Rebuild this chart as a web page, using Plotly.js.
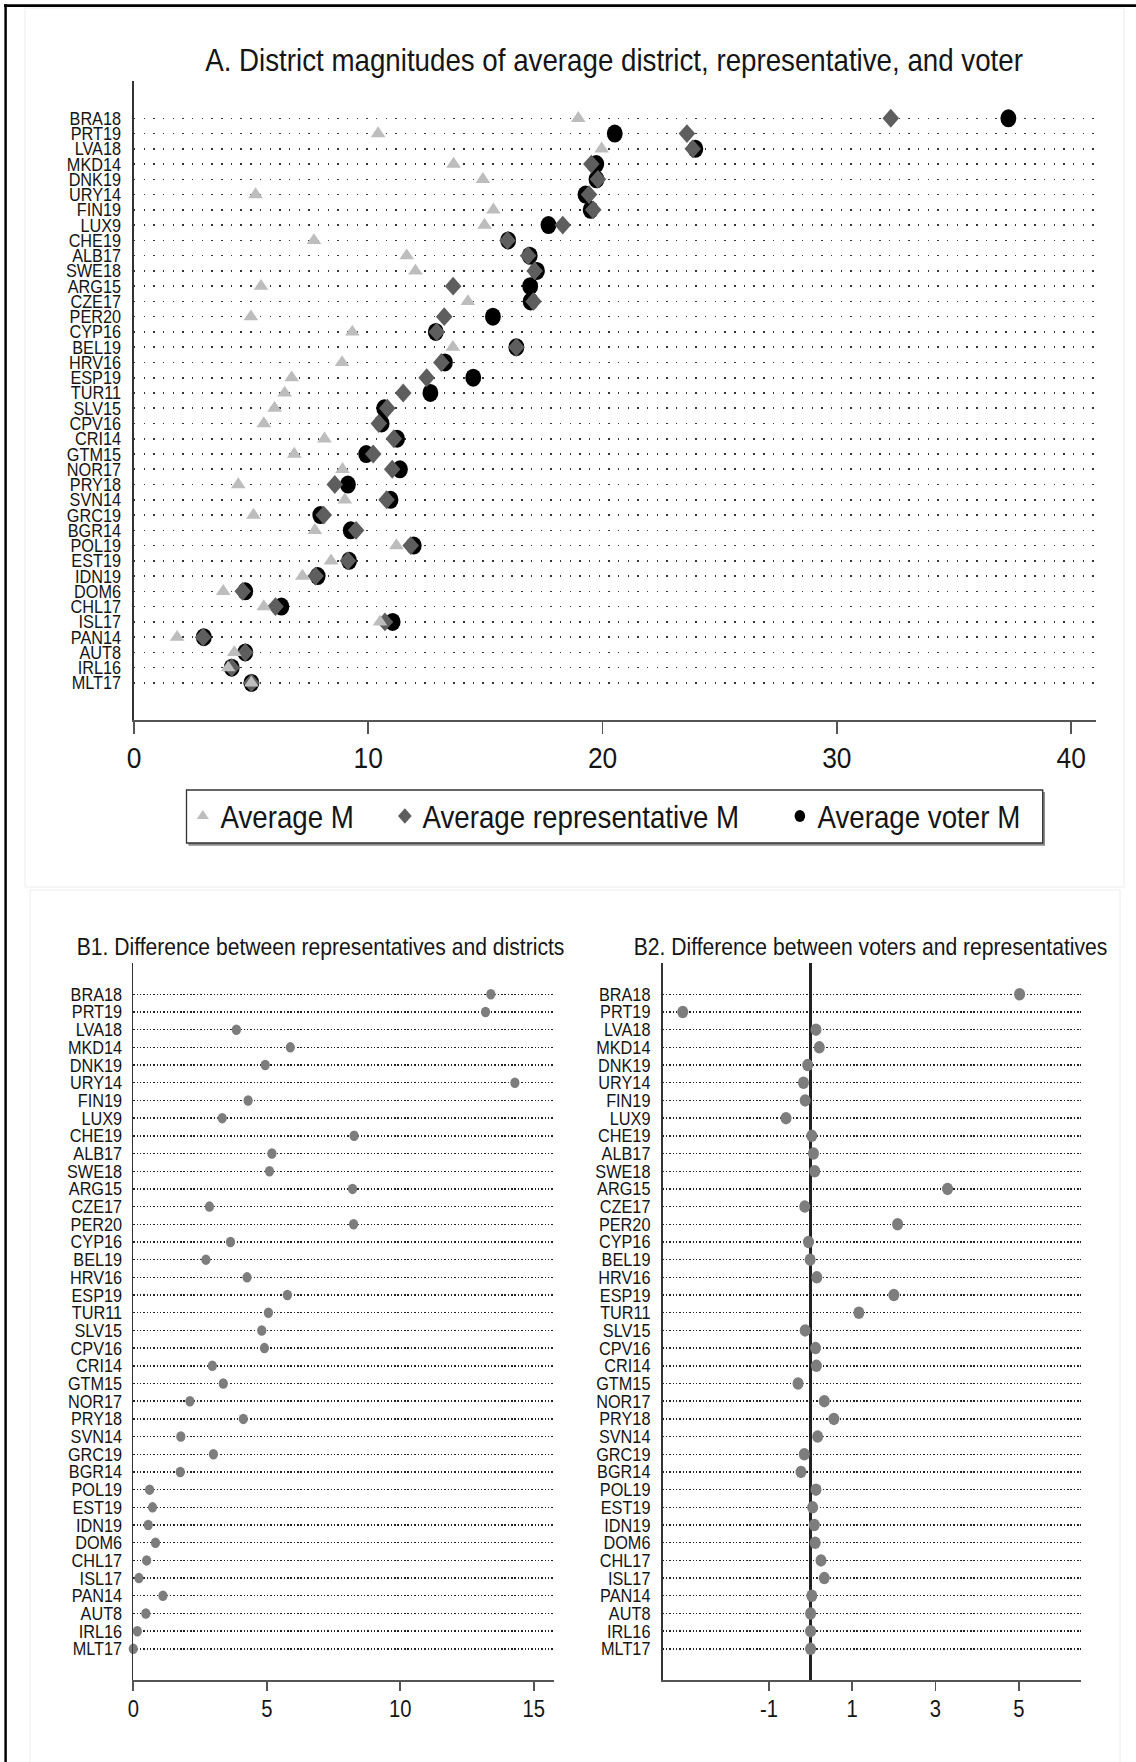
<!DOCTYPE html>
<html>
<head>
<meta charset="utf-8">
<script src="https://cdn.plot.ly/plotly-3.0.1.min.js"></script>
<style>
  html, body { margin: 0; padding: 0; background: #fff; overflow: hidden; }
  #chart { width: 1291px; height: 1762px; transform: scaleX(0.87994); transform-origin: 0 0; }
</style>
</head>
<body>
<div id="chart"></div>
<script>
// ---- data ----
const cats = ['BRA18','PRT19','LVA18','MKD14','DNK19','URY14','FIN19','LUX9','CHE19','ALB17',
  'SWE18','ARG15','CZE17','PER20','CYP16','BEL19','HRV16','ESP19','TUR11','SLV15','CPV16',
  'CRI14','GTM15','NOR17','PRY18','SVN14','GRC19','BGR14','POL19','EST19','IDN19','DOM6',
  'CHL17','ISL17','PAN14','AUT8','IRL16','MLT17'];

const avgM = [18.96, 10.42, 19.96, 13.64, 14.89, 5.19, 15.34, 14.96, 7.68, 11.64,
  12.01, 5.42, 14.25, 4.99, 9.32, 13.61, 8.88, 6.73, 6.43, 6.0, 5.54,
  8.13, 6.84, 8.9, 4.45, 9.0, 5.1, 7.72, 11.2, 8.41, 7.19, 3.81,
  5.54, 10.5, 1.84, 4.28, 4.02, 5.01];

const repM = [32.3, 23.6, 23.85, 19.52, 19.8, 19.42, 19.6, 18.3, 15.94, 16.82,
  17.1, 13.62, 17.05, 13.24, 12.92, 16.32, 13.12, 12.49, 11.49, 10.81, 10.45,
  11.09, 10.21, 11.02, 8.57, 10.78, 8.1, 9.48, 11.81, 9.13, 7.75, 4.64,
  6.04, 10.71, 2.95, 4.75, 4.17, 5.01];

const voterM = [37.32, 20.52, 23.96, 19.73, 19.74, 19.27, 19.49, 17.69, 15.97, 16.89,
  17.2, 16.91, 16.93, 15.32, 12.88, 16.32, 13.27, 14.48, 12.65, 10.68, 10.57,
  11.23, 9.91, 11.35, 9.13, 10.95, 7.95, 9.25, 11.94, 9.18, 7.84, 4.75,
  6.29, 11.04, 2.98, 4.75, 4.17, 5.01];

const diffRepDist = [13.39, 13.19, 3.86, 5.88, 4.94, 14.29, 4.30, 3.33, 8.27, 5.19,
  5.10, 8.21, 2.85, 8.25, 3.64, 2.72, 4.26, 5.77, 5.06, 4.81, 4.91,
  2.96, 3.37, 2.12, 4.12, 1.78, 3.0, 1.76, 0.61, 0.72, 0.56, 0.83,
  0.50, 0.21, 1.11, 0.47, 0.15, 0.0];

const diffVoterRep = [5.02, -3.07, 0.13, 0.21, -0.07, -0.17, -0.13, -0.59, 0.03, 0.07,
  0.10, 3.29, -0.14, 2.09, -0.05, -0.01, 0.15, 2.0, 1.16, -0.13, 0.12,
  0.14, -0.30, 0.33, 0.56, 0.17, -0.15, -0.23, 0.13, 0.05, 0.09, 0.11,
  0.25, 0.33, 0.03, 0.0, 0.0, 0.0];

const ticksA = [0, 10, 20, 30, 40];
const ticksB1 = [0, 5, 10, 15];
const ticksB2 = [-1, 1, 3, 5];
const ticksB2Text = ['-1', '1', '3', '5'];

const titleA = 'A. District magnitudes of average district, representative, and voter';
const titleB1 = 'B1. Difference between representatives and districts';
const titleB2 = 'B2. Difference between voters and representatives';
const seriesNames = ['Average M', 'Average representative M', 'Average voter M'];

// ---- geometry helpers (reference pixel -> paper fraction) ----
const FW = 1136, FH = 1762;
const px = v => v / FW;
const py = v => 1 - v / FH;

const FONT = 'Liberation Sans, Arial, Helvetica, sans-serif';
const TXT = '#151515';

const traces = [
  { type: 'scatter', mode: 'markers', name: seriesNames[2], x: voterM, y: cats,
    xaxis: 'x', yaxis: 'y', legend: 'legend3', cliponaxis: false,
    marker: { symbol: 'circle', size: 18, color: '#000000', line: { width: 0 } } },
  { type: 'scatter', mode: 'markers', name: seriesNames[1], x: repM, y: cats,
    xaxis: 'x', yaxis: 'y', legend: 'legend2', cliponaxis: false,
    marker: { symbol: 'diamond', size: 14.5, color: '#5e5e5e', line: { width: 0 } } },
  { type: 'scatter', mode: 'markers', name: seriesNames[0], x: avgM, y: cats,
    xaxis: 'x', yaxis: 'y', legend: 'legend', cliponaxis: false,
    marker: { symbol: 'triangle-up', size: 14.5, color: '#bdbdbd', line: { width: 0 } } },
  { type: 'scatter', mode: 'markers', x: diffRepDist, y: cats, showlegend: false,
    xaxis: 'x2', yaxis: 'y2', cliponaxis: false,
    marker: { symbol: 'circle', size: 10.5, color: '#7d7d7d', line: { width: 0 } } },
  { type: 'scatter', mode: 'markers', x: diffVoterRep, y: cats, showlegend: false,
    xaxis: 'x3', yaxis: 'y3', cliponaxis: false,
    marker: { symbol: 'circle', size: 12.5, color: '#7d7d7d', line: { width: 0 } } }
];

const catY = (domain, range, labelSize, standoff, dash, gw, gc) => ({
  domain: domain, type: 'category', categoryorder: 'array', categoryarray: cats,
  range: range, tickmode: 'array', tickvals: cats, ticktext: cats,
  ticks: '', showline: true, linecolor: '#333', linewidth: 2,
  showgrid: true, gridcolor: gc, gridwidth: gw, griddash: dash,
  zeroline: false, fixedrange: true,
  tickfont: { family: FONT, size: labelSize, color: TXT }, ticklabelstandoff: standoff
});

const numX = (domain, range, tickvals, ticktext, fontSize, ticklen, standoff, anchor) => ({
  domain: domain, range: range, tickmode: 'array', tickvals: tickvals, ticktext: ticktext,
  ticks: 'outside', ticklen: ticklen, tickwidth: 2, tickcolor: '#555',
  showline: true, linecolor: '#555', linewidth: 2, showgrid: false, zeroline: false,
  anchor: anchor, fixedrange: true, ticklabelstandoff: standoff,
  tickfont: { family: FONT, size: fontSize, color: TXT }
});

const legendBase = (x) => ({
  orientation: 'h', x: x, xanchor: 'left', y: py(816), yanchor: 'middle',
  bgcolor: 'rgba(0,0,0,0)', borderwidth: 0, itemsizing: 'constant',
  font: { family: FONT, size: 31.5, color: TXT }
});

const layout = {
  width: 1291, height: 1762,
  margin: { l: 0, r: 0, t: 0, b: 0, pad: 0 },
  paper_bgcolor: '#ffffff', plot_bgcolor: 'rgba(0,0,0,0)',
  font: { family: FONT, color: TXT },
  showlegend: true,
  legend: legendBase((229.5 - 19) / 1291),
  legend2: legendBase((459.1 - 19) / 1291),
  legend3: legendBase((908.0 - 19) / 1291),
  xaxis: numX([px(134), px(1096)], [0, 41.06], ticksA, ticksA.map(String), 30, 12, -2, 'y'),
  yaxis: Object.assign(catY([py(720), py(81)], [39.43, -2.444], 18.5, 9, '1.6px,9.4px', 1.6, '#333'), { anchor: 'x' }),
  xaxis2: numX([px(133.3), px(554.4)], [0, 15.77], ticksB1, ticksB1.map(String), 23, 9, -2, 'y2'),
  yaxis2: Object.assign(catY([py(1680), py(963.3)], [38.76, -1.752], 18.5, 7, '1.6px,2.2px', 1.4, '#222'), { anchor: 'x2' }),
  xaxis3: Object.assign(numX([px(662.5), px(1080.8)], [-3.556, 6.49], ticksB2, ticksB2Text, 23, 9, -2, 'y3'),
    { zeroline: true, zerolinecolor: '#222', zerolinewidth: 2.6 }),
  yaxis3: Object.assign(catY([py(1680), py(963.3)], [38.76, -1.752], 18.5, 8, '1.6px,2.2px', 1.4, '#222'), { anchor: 'x3' }),
  annotations: [
    { text: titleA, xref: 'paper', yref: 'paper', x: px(614.6), y: py(59.6),
      xanchor: 'center', yanchor: 'middle', showarrow: false,
      font: { family: FONT, size: 31.5, color: TXT } },
    { text: titleB1, xref: 'paper', yref: 'paper', x: px(321), y: py(946.5),
      xanchor: 'center', yanchor: 'middle', showarrow: false,
      font: { family: FONT, size: 24, color: TXT } },
    { text: titleB2, xref: 'paper', yref: 'paper', x: px(870.8), y: py(946.5),
      xanchor: 'center', yanchor: 'middle', showarrow: false,
      font: { family: FONT, size: 24, color: TXT } }
  ],
  shapes: [
    // faint panel frames
    { type: 'rect', xref: 'paper', yref: 'paper', layer: 'below',
      x0: px(25), x1: px(1124), y0: py(887), y1: py(8),
      line: { color: '#ebebeb', width: 1 }, fillcolor: 'rgba(0,0,0,0)' },
    { type: 'rect', xref: 'paper', yref: 'paper', layer: 'below',
      x0: px(30), x1: px(1120), y0: -0.02, y1: py(890),
      line: { color: '#ebebeb', width: 1 }, fillcolor: 'rgba(0,0,0,0)' },
    // legend box with shadow
    { type: 'rect', xref: 'paper', yref: 'paper', layer: 'below',
      x0: px(188.5), x1: px(1045), y0: py(845.8), y1: py(792),
      line: { width: 0 }, fillcolor: '#8c8c8c' },
    { type: 'rect', xref: 'paper', yref: 'paper', layer: 'below',
      x0: px(186.5), x1: px(1042.7), y0: py(843), y1: py(790),
      line: { color: '#333', width: 1.5 }, fillcolor: '#ffffff' },
    // black outer frame (top and left)
    { type: 'line', xref: 'paper', yref: 'paper', x0: px(4), x1: 1.01, y0: py(5.6), y1: py(5.6),
      line: { color: '#000', width: 2.6 } },
    { type: 'line', xref: 'paper', yref: 'paper', x0: px(5.6), x1: px(5.6), y0: py(4.3), y1: -0.01,
      line: { color: '#000', width: 2.8 } }
  ]
};

Plotly.newPlot('chart', traces, layout, { displayModeBar: false, staticPlot: true });
</script>
</body>
</html>
